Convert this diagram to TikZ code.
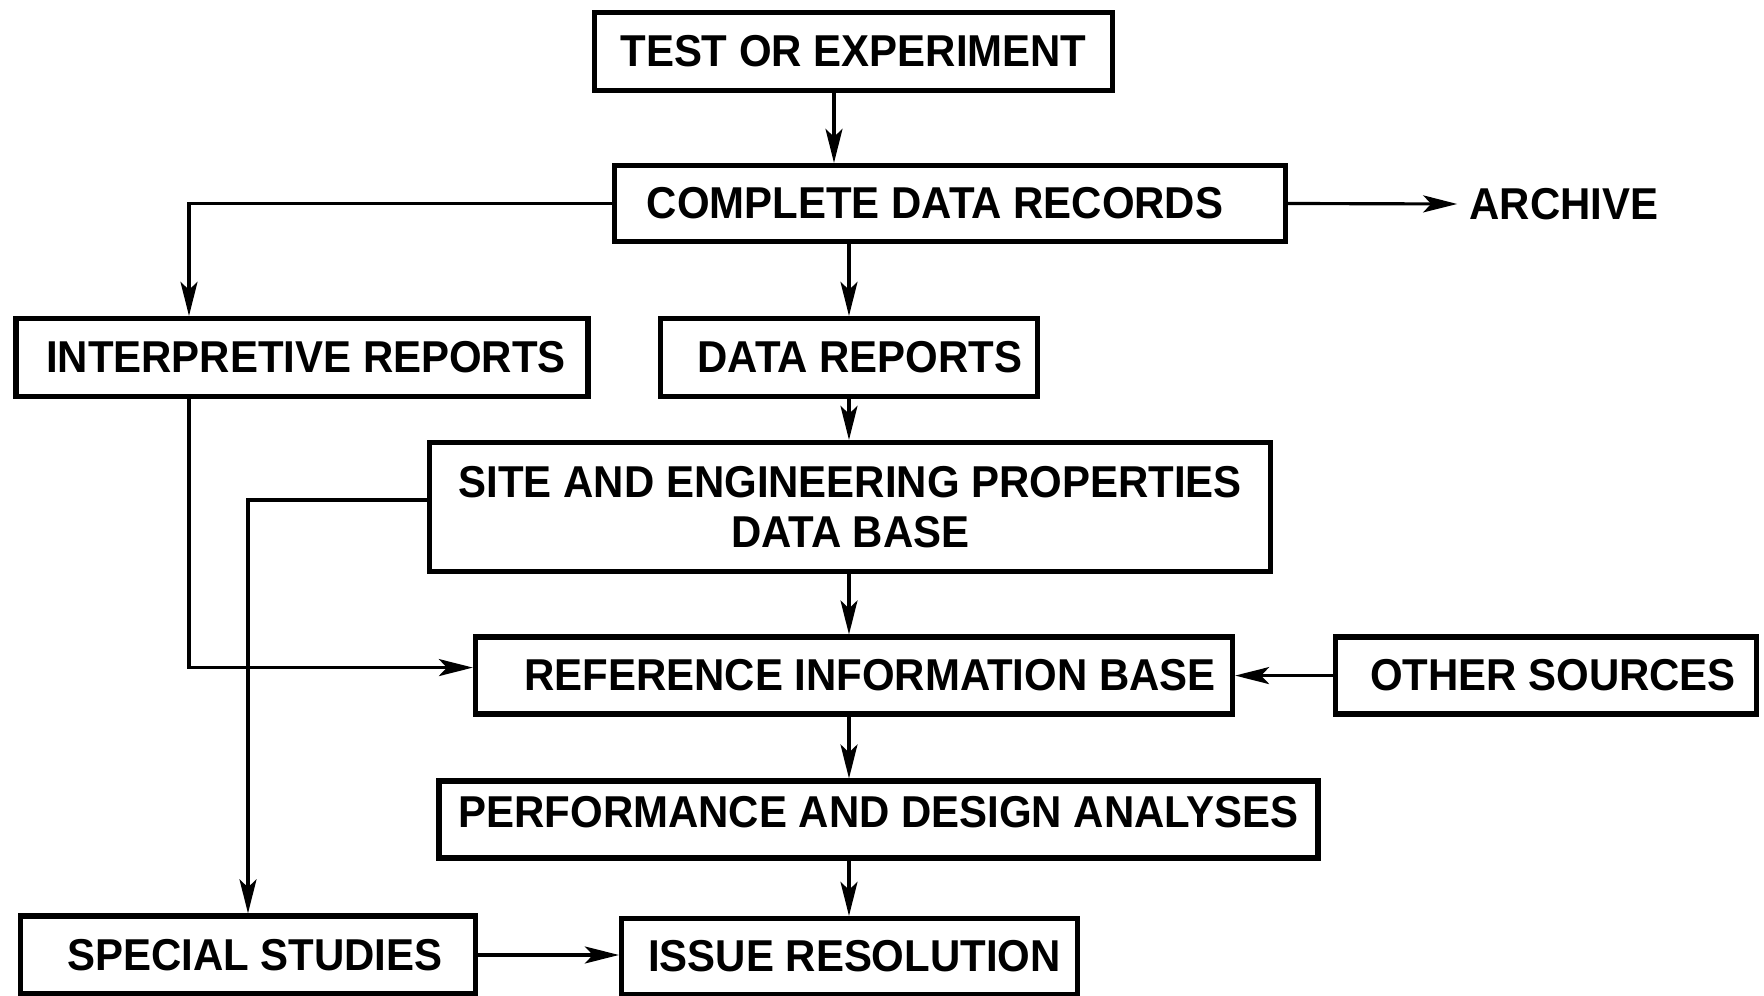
\documentclass[tikz,border=0pt]{standalone}
\usepackage{fontspec}
\setmainfont{Liberation Sans}[FakeStretch=0.94]
\usetikzlibrary{arrows.meta,calc}

\tikzset{
  lbl/.style={font=\fontsize{12.7pt}{14.1pt}\selectfont\bfseries, align=center},
  box/.style={lbl, draw, line width=1.5pt, inner sep=0pt},
  tshift/.style={execute at begin node=\hspace*{#1}},
  arr/.style={line width=0.9pt, -{Stealth[length=3.4mm,width=1.7mm,inset=0.8mm]}}
}

\begin{document}
\begin{tikzpicture}[x=0.1mm,y=-0.1mm]
\useasboundingbox (0,0) rectangle (1764,996);
% boxes
\node[box, minimum width=51.8mm, minimum height=7.8mm] (test) at (853.5,51.5) {TEST OR EXPERIMENT};
\node[box, tshift=-3mm, minimum width=67.1mm, minimum height=7.6mm] (complete) at (950,203.5) {COMPLETE DATA RECORDS};
\node[lbl] (archive) at (1564,204) {ARCHIVE};
\node[box, tshift=0.8mm, minimum width=57.2mm, minimum height=7.8mm] (interp) at (302,357.5) {INTERPRETIVE REPORTS};
\node[box, tshift=2.2mm, minimum width=37.7mm, minimum height=7.8mm] (datarep) at (849,357.5) {DATA REPORTS};
\node[box, minimum width=84.1mm, minimum height=12.9mm] (site) at (850.3,507) {SITE AND ENGINEERING PROPERTIES\\DATA BASE};
\node[box, tshift=3.2mm, minimum width=75.7mm, minimum height=7.7mm] (ref) at (854,675.6) {REFERENCE INFORMATION BASE};
\node[box, tshift=1.4mm, minimum width=42.1mm, minimum height=7.7mm] (other) at (1546,675.6) {OTHER SOURCES};
\node[box, text depth=1.6mm, minimum width=87.9mm, minimum height=7.7mm] (perf) at (878.6,819.6) {PERFORMANCE AND DESIGN ANALYSES};
\node[box, tshift=1.4mm, minimum width=45.5mm, minimum height=7.8mm] (special) at (248,955) {SPECIAL STUDIES};
\node[box, tshift=1mm, minimum width=45.6mm, minimum height=7.6mm] (issue) at (849.5,956.5) {ISSUE RESOLUTION};
% main column
\path[draw,arr] ($(test.south)+(-19.5,0)$) coordinate (t1) -- (t1 |- complete.north);
\path[draw,arr] (complete.south -| datarep) -- (datarep.north);
\path[draw,arr] (datarep.south) -- (site.north -| datarep);
\path[draw,arr] (site.south -| datarep) -- (ref.north -| datarep);
\path[draw,arr] (ref.south -| datarep) -- (perf.north -| datarep);
\path[draw,arr] (perf.south -| datarep) -- (issue.north -| datarep);
% side branches
\path[draw,arr] (complete.east) -- (archive.west);
\path[draw,arr] (complete.west) -| ($(interp.north)+(-113,0)$);
\path[draw,arr] ($(interp.south)+(-113,0)$) |- ($(ref.west)+(0,-8)$);
\path[draw,arr] ($(site.west)+(0,-7)$) -| (special.north);
\path[draw,arr] (other.west) -- (ref.east);
\path[draw,arr] (special.east) -- (issue.west |- special.east);
\end{tikzpicture}
\end{document}
